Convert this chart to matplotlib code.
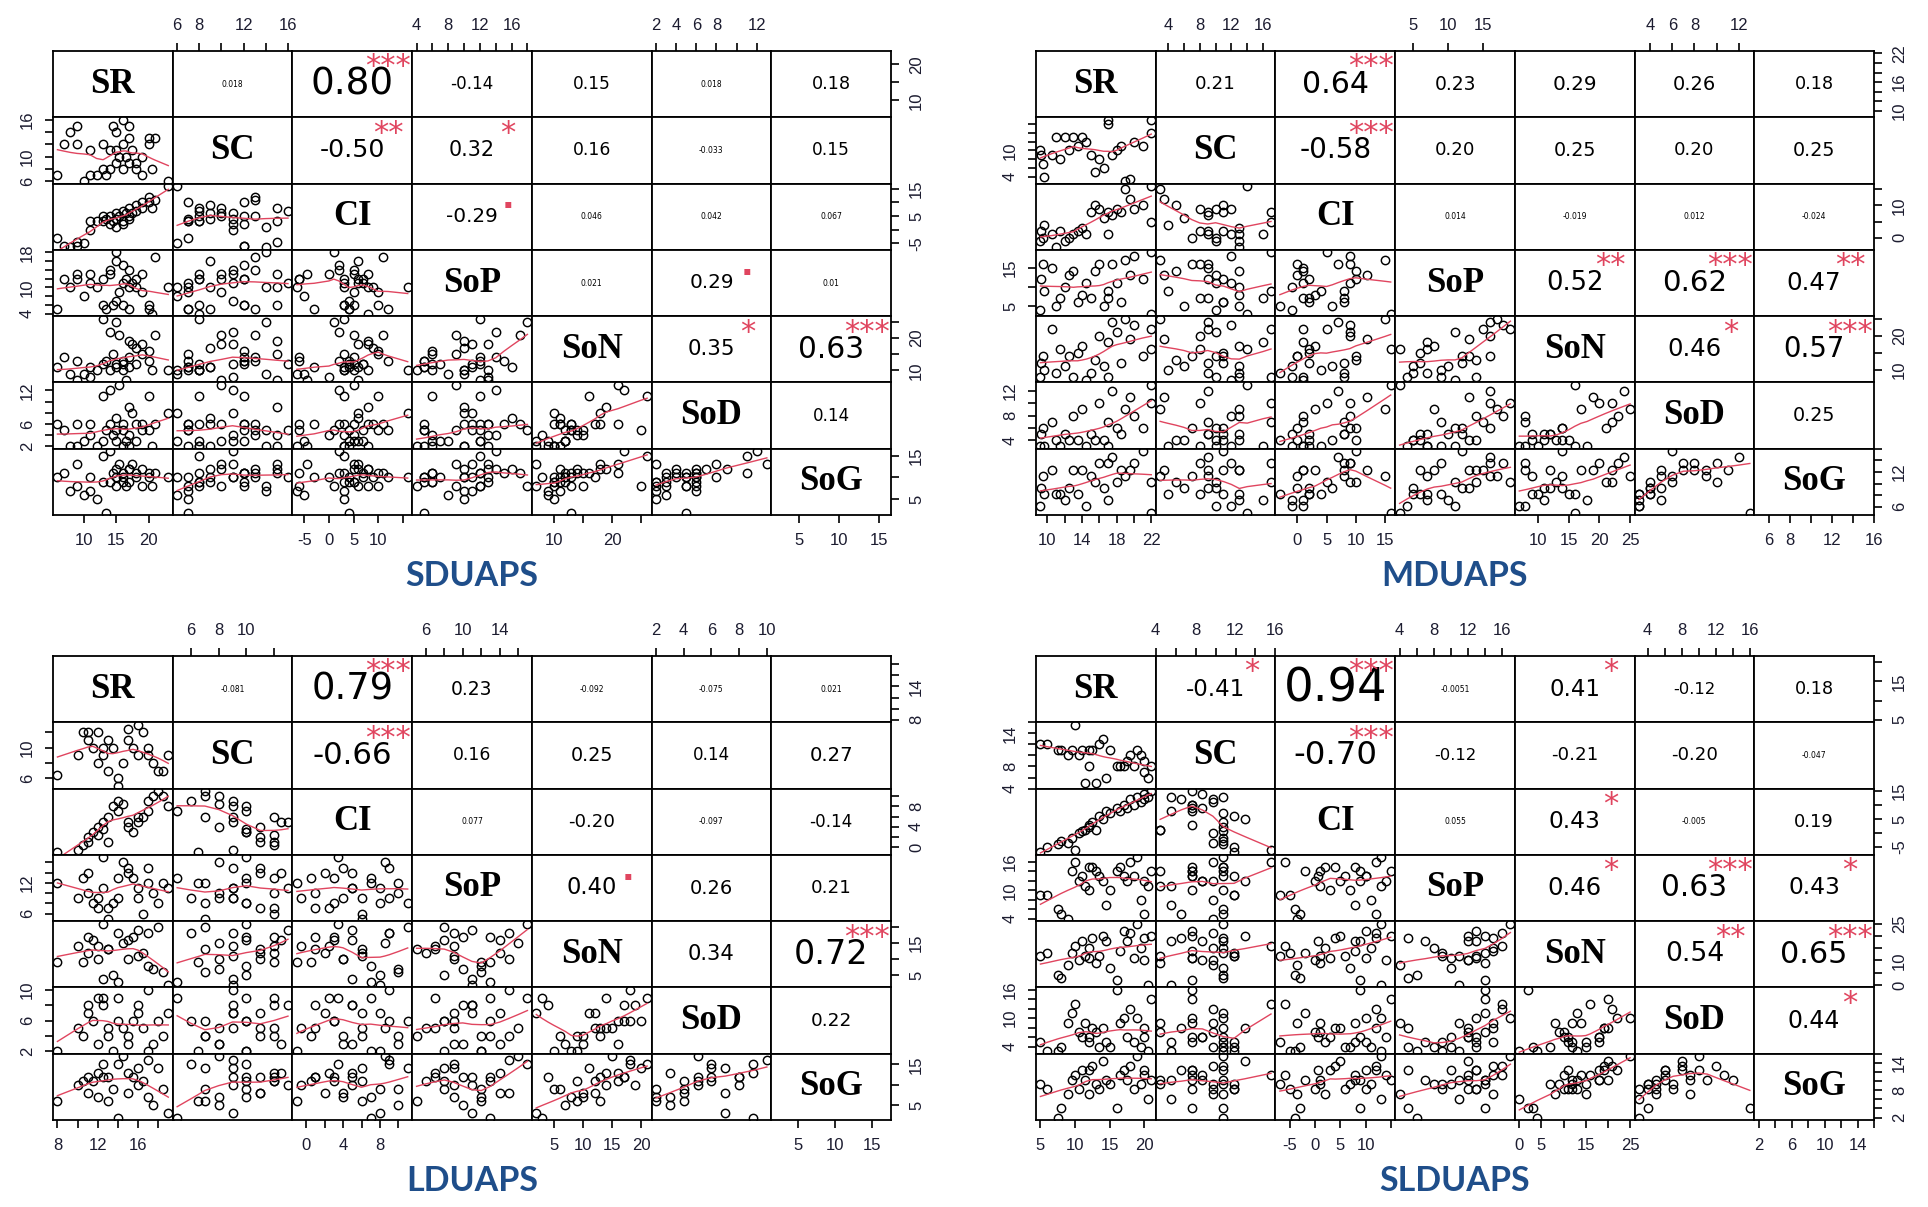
import numpy as np
import matplotlib
matplotlib.use('Agg')
import matplotlib.pyplot as plt

W, H = 1928, 1207
PW, PH = 838, 464
NAMES = ['SR', 'SC', 'CI', 'SoP', 'SoN', 'SoD', 'SoG']

# ---------------- SDUAPS ----------------
SD_SR = [6, 7, 8, 9, 9, 10, 11, 11, 12, 13, 13, 13.5, 14, 14, 14.5, 15, 15, 15, 15.5, 16, 16, 16, 16.5, 17, 17, 17, 17.5, 18, 18, 19, 19, 20, 20, 20.5, 21, 23]
SD_SC = [7, 12, 14, 15, 12, 6, 11, 7, 7, 8, 12, 7, 11, 8, 15, 11, 9, 14, 10, 16, 8, 12, 10, 15, 13, 9, 11, 9, 8, 7, 10, 12, 13, 8, 13, 6]
SD_CI = [-3, -6, -6.5, -4.5, -6, -5, 0, 3, 3, 3, 5, 4, 2, 5, 3, 4, 6, 1, 5, 7, 3, 2, 6, 8, 5, 4, 6, 9, 7, 10, 8, 10, 12, 8, 11, 16]
SD_SoP = [5, 12, 10, 13, 12, 8, 13, 11, 10, 12, 6, 5, 14, 13, 6, 7, 16, 18, 9, 11, 6, 15, 12, 10, 14, 5, 11, 10, 12, 9, 13, 6, 5, 4, 17, 10]
SD_SoN = [11, 14, 9, 7, 13, 9, 8, 11, 10, 26, 12, 13, 22, 10, 15, 12, 11, 25, 21, 12, 10, 13, 7, 19, 14, 11, 18, 17, 12, 15, 18, 16, 13, 10, 21, 10]
SD_SoD = [6, 5, 2, 2, 6, 3, 4, 6, 2, 11, 3, 5, 12, 6, 4, 3, 7, 5, 13, 5, 2, 6, 3, 9, 4, 2, 8, 6, 3, 5, 6, 11, 5, 2, 6, 8]
SD_SoG = [10, 11, 7, 13, 8, 6, 10, 7, 5, 15, 9, 2, 16, 9, 11, 10, 12, 8, 13, 10, 9, 11, 8, 12, 12, 9, 13, 10, 11, 8, 12, 11, 10, 8, 11, 10]
SD_R = ['0.018', '0.80', '-0.14', '0.15', '0.018', '0.18',
        '-0.50', '0.32', '0.16', '-0.033', '0.15',
        '-0.29', '0.046', '0.042', '0.067',
        '0.021', '0.29', '0.01',
        '0.35', '0.63',
        '0.14']
SD_SIG = ['', '***', '', '', '', '',
          '**', '*', '', '', '',
          '.', '', '', '',
          '', '.', '',
          '*', '***',
          '']
SD_TICKS = [[10, 15, 20], [6, 8, 10, 12, 14, 16], [-5, 0, 5, 10, 15], [4, 6, 8, 10, 12, 14, 16, 18],
            [10, 15, 20, 25], [2, 4, 6, 8, 10, 12], [5, 10, 15]]
SD_XLAB = [[10, 15, 20], [6, 8, 12, 16], [-5, 0, 5, 10], [4, 8, 12, 16], [10, 20], [2, 4, 6, 8, 12], [5, 10, 15]]
SD_YLAB = [[10, 20], [6, 10, 16], [-5, 5, 15], [4, 10, 18], [10, 20], [2, 6, 12], [5, 15]]

# ---------------- MDUAPS ----------------
MD_SR = [9.2, 9.3, 9.5, 9.6, 10.5, 11, 11.5, 12, 12.5, 13, 13.5, 14, 14.5, 15, 15.5, 16, 16.5, 17, 17, 17.5, 18, 18.5, 19, 19.5, 20, 21, 22, 22]
MD_SC = [10, 9, 7, 4, 9, 13, 8, 13, 10, 13, 11, 13, 12, 9, 5, 8, 6, 16, 17, 9, 10, 11, 3, 3.5, 12, 11, 14, 17]
MD_CI = [-1, 2, 0, 4, 1, -3, 2, -1, 0, 1, 2, 3, 1, 8, 10, 9, 6, 1, 8, 7, 9, 8, 15, 12, 9, 10, 16, 5]
MD_SoP = [4, 12, 16, 9, 15, 5, 7, 10, 13, 14, 6, 8, 11, 7, 14, 16, 5, 7, 9, 16, 11, 6, 17, 13, 18, 12, 3, 19]
MD_SoN = [8, 12, 14, 10, 22, 9, 16, 11, 14, 8, 15, 17, 7, 9, 13, 20, 11, 18, 8, 24, 21, 12, 25, 19, 23, 14, 16, 22]
MD_SoD = [3, 5, 6, 3, 7, 4, 3, 5, 4, 8, 4, 9, 3, 5, 4, 10, 4, 3, 7, 12, 6, 5, 9, 11, 8, 6, 13, 10]
MD_SoG = [6, 9, 11, 8, 12, 8, 8, 7, 9, 12, 8, 12, 6, 11, 10, 13, 9, 7, 13, 14, 10, 12, 11, 12, 13, 15, 5, 10]
MD_R = ['0.21', '0.64', '0.23', '0.29', '0.26', '0.18',
        '-0.58', '0.20', '0.25', '0.20', '0.25',
        '0.014', '-0.019', '0.012', '-0.024',
        '0.52', '0.62', '0.47',
        '0.46', '0.57',
        '0.25']
MD_SIG = ['', '***', '', '', '', '',
          '***', '', '', '', '',
          '', '', '', '',
          '**', '***', '**',
          '*', '***',
          '']
MD_TICKS = [[10, 12, 14, 16, 18, 20, 22], [4, 6, 8, 10, 12, 14, 16], [0, 5, 10, 15], [5, 10, 15],
            [10, 15, 20, 25], [4, 6, 8, 10, 12], [6, 8, 10, 12, 14, 16]]
MD_XLAB = [[10, 14, 18, 22], [4, 8, 12, 16], [0, 5, 10, 15], [5, 10, 15], [10, 15, 20, 25], [4, 6, 8, 12], [6, 8, 12, 16]]
MD_YLAB = [[10, 16, 22], [4, 10], [0, 10], [5, 15], [10, 20], [4, 8, 12], [6, 12]]

# ---------------- LDUAPS ----------------
LD_SR = [8, 10, 11, 11, 11.5, 12, 12, 12.5, 13, 13.5, 14, 14, 14.5, 15, 15, 15.5, 16, 16, 16.5, 17, 17, 17.5, 18, 18.5, 19, 13, 10.5, 12.5]
LD_SC = [6.5, 9, 12, 11, 10, 12, 8, 9, 7, 10, 5, 6, 8, 12.5, 11, 10, 9, 13, 12, 10, 9, 8, 7, 7, 9, 11, 12, 10]
LD_CI = [-1, -0.5, 1, 2, 3, 2.5, 4, 5, 6, 8, 7, 9, 8.5, 5, 4, 3, 6, 5, 6, 7, 9, 10, 11, 10, 8, 1, 0.5, 3.5]
LD_SoP = [12, 9, 10, 14, 8, 7, 9, 11, 5, 8, 13, 9, 16, 14, 15, 13, 9, 11, 6, 12, 15, 10, 8, 12, 11, 7, 13, 17]
LD_SoN = [9, 14, 17, 12, 16, 14, 10, 4, 13, 5, 3, 18, 15, 16, 10, 17, 11, 19, 12, 8, 18, 7, 20, 6, 2, 13, 9, 21]
LD_SoD = [2, 5, 8, 7, 6, 9, 3, 8, 4, 2, 9, 6, 5, 3, 4, 6, 7, 8, 5, 2, 10, 3, 6, 4, 7, 5, 4, 9]
LD_SoG = [6, 10, 12, 8, 11, 13, 7, 12, 6, 9, 2, 15, 17, 13, 8, 12, 14, 10, 11, 7, 16, 5, 14, 9, 3, 12, 11, 15]
LD_R = ['-0.081', '0.79', '0.23', '-0.092', '-0.075', '0.021',
        '-0.66', '0.16', '0.25', '0.14', '0.27',
        '0.077', '-0.20', '-0.097', '-0.14',
        '0.40', '0.26', '0.21',
        '0.34', '0.72',
        '0.22']
LD_SIG = ['', '***', '', '', '', '',
          '***', '', '', '', '',
          '', '', '', '',
          '.', '', '',
          '', '***',
          '']
LD_TICKS = [[8, 10, 12, 14, 16, 18], [6, 8, 10, 12], [0, 2, 4, 6, 8, 10], [6, 8, 10, 12, 14, 16],
            [5, 10, 15, 20], [2, 4, 6, 8, 10], [5, 10, 15]]
LD_XLAB = [[8, 12, 16], [6, 8, 10], [0, 4, 8], [6, 10, 14], [5, 10, 15, 20], [2, 4, 6, 8, 10], [5, 10, 15]]
LD_YLAB = [[8, 14], [6, 10], [0, 4, 8], [6, 12], [5, 15], [2, 6, 10], [5, 15]]

# ---------------- SLDUAPS ----------------
SL_SR = [5, 7.5, 8, 9, 9.5, 10, 10.5, 11, 11.5, 12, 12, 12.5, 13, 13.5, 14, 14.5, 15, 16, 16.5, 17, 17.5, 18, 18.5, 19, 19.5, 20, 20, 20.5, 21, 6]
SL_SC = [12, 11, 11, 10, 11, 15.5, 10, 11, 5, 11, 8, 11, 5, 12, 13, 6, 11, 8, 8, 8, 9, 10, 8, 11, 10, 9, 7, 6, 8, 12]
SL_CI = [-7, -4, -3, -3.5, -2, -6, 0, 0.5, 1, 2, 3, 4, 1, 6, 5, 8, 7, 9, 8, 10, 9, 12, 10, 13, 11, 14, 12, 13, 15, -5]
SL_SoP = [9, 6, 5, 4, 14, 16, 12, 13, 11, 15, 10, 15, 14, 13, 12, 7, 10, 14, 15, 13, 12, 16, 13, 17, 8, 12, 5, 11, 14, 9]
SL_SoN = [12, 4, 3, 8, 13, 16, 10, 18, 12, 15, 11, 19, 9, 12, 20, 18, 7, 2, 14, 22, 18, 21, 11, 25, 15, 10, 19, 0, 20, 13]
SL_SoD = [5, 3, 4, 9, 11, 13, 7, 6, 9, 5, 6, 8, 7, 4, 8, 5, 4, 16, 9, 10, 6, 12, 5, 10, 4, 6, 8, 3, 14, 3]
SL_SoG = [9, 2, 4, 7, 10, 11, 8, 12, 10, 7, 12, 13, 9, 8, 14, 10, 9, 4, 11, 12, 10, 13, 8, 15, 9, 11, 12, 6, 10, 8]
SL_R = ['-0.41', '0.94', '-0.0051', '0.41', '-0.12', '0.18',
        '-0.70', '-0.12', '-0.21', '-0.20', '-0.047',
        '0.055', '0.43', '-0.005', '0.19',
        '0.46', '0.63', '0.43',
        '0.54', '0.65',
        '0.44']
SL_SIG = ['*', '***', '', '*', '', '',
          '***', '', '', '', '',
          '', '*', '', '',
          '*', '***', '*',
          '**', '***',
          '*']
SL_TICKS = [[5, 10, 15, 20], [4, 6, 8, 10, 12, 14, 16], [-5, 0, 5, 10, 15], [4, 6, 8, 10, 12, 14, 16],
            [0, 5, 10, 15, 20, 25], [4, 6, 8, 10, 12, 14, 16], [2, 4, 6, 8, 10, 12, 14, 16]]
SL_XLAB = [[5, 10, 15, 20], [4, 8, 12, 16], [-5, 0, 5, 10], [4, 8, 12, 16], [0, 5, 15, 25], [4, 8, 12, 16], [2, 6, 10, 14]]
SL_YLAB = [[5, 15], [4, 8, 14], [-5, 5, 15], [4, 10, 16], [0, 10, 25], [4, 10, 16], [2, 8, 14]]

RED = '#E0455F'
TICK_COL = '#1c1c30'
TITLE_COL = '#1F4E8A'
TICK_FONT = ['Liberation Sans', 'DejaVu Sans']


def lowess(x, y, f=2 / 3, n_iter=3):
    x = np.asarray(x, float)
    y = np.asarray(y, float)
    order = np.argsort(x, kind='mergesort')
    x, y = x[order], y[order]
    n = len(x)
    r = max(int(np.ceil(f * n)), 2)
    d = np.abs(x[:, None] - x[None, :])
    h = np.maximum(np.sort(d, axis=1)[:, r - 1], 1e-9)
    w = np.clip(d / h[:, None], 0, 1)
    w = (1 - w ** 3) ** 3
    delta = np.ones(n)
    yest = np.zeros(n)
    for _ in range(n_iter + 1):
        for i in range(n):
            wi = w[i] * delta
            sw = wi.sum()
            if sw <= 0:
                yest[i] = y[i]
                continue
            xm = (wi * x).sum() / sw
            ym = (wi * y).sum() / sw
            sxx = (wi * (x - xm) ** 2).sum()
            b = (wi * (x - xm) * (y - ym)).sum() / sxx if sxx > 1e-12 else 0.0
            yest[i] = ym + b * (x[i] - xm)
        res = y - yest
        s = np.median(np.abs(res))
        if s < 1e-12:
            break
        u = np.clip(res / (6 * s), -1, 1)
        delta = (1 - u ** 2) ** 2
    return x, yest


def fmt(v):
    return '%g' % v


def corr_size(txt):
    r = abs(float(txt))
    if r < 0.1:
        return 5.5
    return 10 + 15 * r + 12 * r ** 4


def set_ticks(axis, vals, shown):
    axis.set_ticks(vals)
    axis.set_ticklabels([fmt(v) if v in shown else '' for v in vals], family=TICK_FONT)


def draw_panel(fig, x0, y0, values, rtxt, sig, ticks, xlab, ylab, title, title_y):
    cw, ch = PW / 7, PH / 7
    lims = []
    for v in values:
        lo, hi = min(v), max(v)
        pad = 0.04 * (hi - lo)
        lims.append((lo - pad, hi + pad))
    k = 0
    for i in range(7):
        for j in range(7):
            ax = fig.add_axes([(x0 + j * cw) / W, 1 - (y0 + (i + 1) * ch) / H, cw / W, ch / H])
            ax.set_xlim(lims[j])
            ax.set_ylim(lims[i])
            ax.set_xticks([])
            ax.set_yticks([])
            for sp in ax.spines.values():
                sp.set_linewidth(1.3)
            if i == j:
                ax.text(0.5, 0.5, NAMES[i], transform=ax.transAxes, ha='center', va='center',
                        fontsize=25, fontweight='bold', family=['Liberation Serif', 'DejaVu Serif'])
            elif i > j:
                ax.plot(values[j], values[i], 'o', mfc='none', mec='black', ms=6.0, mew=1.05)
                lx, ly = lowess(values[j], values[i])
                ax.plot(lx, ly, color=RED, lw=1.0)
            else:
                ax.text(0.5, 0.5, rtxt[k], transform=ax.transAxes, ha='center', va='center',
                        fontsize=corr_size(rtxt[k]))
                if sig[k] == '.':
                    ax.text(0.8, 0.77, '.', transform=ax.transAxes, ha='center', va='center',
                            fontsize=24, fontweight='bold', color=RED)
                elif sig[k]:
                    ax.text(0.8, 0.76, sig[k], transform=ax.transAxes, ha='center', va='center',
                            fontsize=22, color=RED)
                k += 1
            if i == 6 and j % 2 == 0:
                set_ticks(ax.xaxis, ticks[j], xlab[j])
            if i == 0 and j % 2 == 1:
                ax.xaxis.tick_top()
                set_ticks(ax.xaxis, ticks[j], xlab[j])
            if j == 0 and i % 2 == 1:
                set_ticks(ax.yaxis, ticks[i], ylab[i])
            if j == 6 and i % 2 == 0:
                ax.yaxis.tick_right()
                set_ticks(ax.yaxis, ticks[i], ylab[i])
            ax.tick_params(direction='out', length=6, width=1.2, labelsize=12, pad=7,
                           colors='black', labelcolor=TICK_COL)
            ax.tick_params(axis='y', labelrotation=90)
            for lbl in ax.get_yticklabels():
                lbl.set_va('center')
    fig.text((x0 + PW / 2) / W, 1 - title_y / H, title, ha='center', va='center',
             fontsize=24.5, fontweight='bold', color=TITLE_COL, family=['Lato', 'DejaVu Sans'])


fig = plt.figure(figsize=(W / 100, H / 100), dpi=100)
fig.patch.set_facecolor('white')

draw_panel(fig, 53, 51, [SD_SR, SD_SC, SD_CI, SD_SoP, SD_SoN, SD_SoD, SD_SoG],
           SD_R, SD_SIG, SD_TICKS, SD_XLAB, SD_YLAB, 'SDUAPS', 576)
draw_panel(fig, 1036, 51, [MD_SR, MD_SC, MD_CI, MD_SoP, MD_SoN, MD_SoD, MD_SoG],
           MD_R, MD_SIG, MD_TICKS, MD_XLAB, MD_YLAB, 'MDUAPS', 576)
draw_panel(fig, 53, 656, [LD_SR, LD_SC, LD_CI, LD_SoP, LD_SoN, LD_SoD, LD_SoG],
           LD_R, LD_SIG, LD_TICKS, LD_XLAB, LD_YLAB, 'LDUAPS', 1181)
draw_panel(fig, 1036, 656, [SL_SR, SL_SC, SL_CI, SL_SoP, SL_SoN, SL_SoD, SL_SoG],
           SL_R, SL_SIG, SL_TICKS, SL_XLAB, SL_YLAB, 'SLDUAPS', 1181)

fig.savefig('out.png', dpi=100, facecolor='white')
